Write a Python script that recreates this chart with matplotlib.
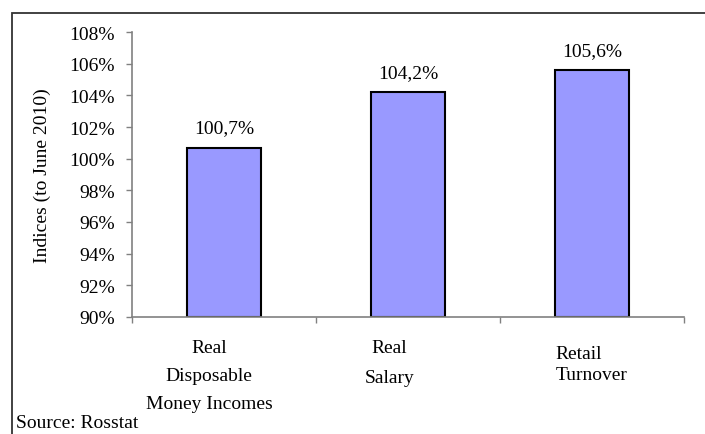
import matplotlib
matplotlib.use("Agg")
import matplotlib.pyplot as plt
from matplotlib.patches import Rectangle
from matplotlib.ticker import FuncFormatter

categories = ["Real\nDisposable\nMoney Incomes", "Real\nSalary", "Retail\nTurnover"]
values = [100.7, 104.2, 105.6]
value_labels = ["100,7%", "104,2%", "105,6%"]
yticks = [90, 92, 94, 96, 98, 100, 102, 104, 106, 108]

plt.rcParams["font.family"] = ["Liberation Serif", "DejaVu Serif"]
FS = 14

W, H = 705, 435
fig = plt.figure(figsize=(W / 100, H / 100), dpi=100)

# outer frame of the chart area
fig.patches.append(Rectangle((12 / W, -0.1), 1.2, 1 - 14 / H + 0.1,
                             transform=fig.transFigure, fill=False,
                             edgecolor="#333333", linewidth=1.3, zorder=0))

ax = fig.add_axes([132 / W, 1 - 318 / H, (684 - 132) / W, (318 - 33) / H])
x = list(range(len(categories)))
ax.bar(x, [v - 90 for v in values], bottom=90, width=0.40,
       color="#9999FF", edgecolor="black", linewidth=1.5, zorder=2)

for xi, v, lab in zip(x, values, value_labels):
    ax.annotate(lab, (xi, v), xytext=(0, 8), textcoords="offset points",
                ha="center", va="bottom", fontsize=FS)

ax.set_xlim(-0.5, 2.5)
ax.set_ylim(90, 108)
ax.set_yticks(yticks)
ax.yaxis.set_major_formatter(FuncFormatter(lambda v, p: f"{v:.0f}%"))
ax.tick_params(axis="y", length=4, width=1, color="#808080", pad=8.5, labelsize=FS)

ax.set_xticks([-0.5, 0.5, 1.5, 2.5])
ax.set_xticklabels([])
ax.tick_params(axis="x", length=4, width=1, color="#808080")

for s in ("top", "right"):
    ax.spines[s].set_visible(False)
for s in ("left", "bottom"):
    ax.spines[s].set_color("#808080")
    ax.spines[s].set_linewidth(1.2)

# category labels under the axis
tr = ax.get_xaxis_transform()
ax.text(-0.08, -0.0775, categories[0], transform=tr, ha="center", va="top",
        fontsize=FS, linespacing=1.85, multialignment="center")
ax.text(-0.1 + 1, -0.0775, categories[1], transform=tr, ha="center", va="top",
        fontsize=FS, linespacing=2.0, multialignment="center")
ax.text(1.8, -0.099, categories[2], transform=tr, ha="left", va="top",
        fontsize=FS, linespacing=1.3, multialignment="left")

ax.set_ylabel("Indices (to June 2010)", fontsize=FS, labelpad=13)

fig.text(16 / W, 1 - 424 / H, "Source: Rosstat", ha="left", va="center", fontsize=FS)

fig.savefig("out.png", dpi=100)
